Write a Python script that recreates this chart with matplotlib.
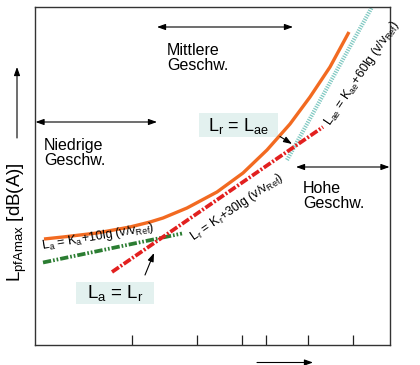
import matplotlib
matplotlib.use("Agg")
import matplotlib.pyplot as plt
from matplotlib import font_manager

plt.rcParams['font.family'] = ['Liberation Sans', 'DejaVu Sans']
plt.rcParams['mathtext.fontset'] = 'custom'
plt.rcParams['mathtext.rm'] = 'Liberation Sans'
plt.rcParams['mathtext.it'] = 'Liberation Sans'
plt.rcParams['lines.scale_dashes'] = False

names = {f.name for f in font_manager.fontManager.ttflist}
narrow = 'Liberation Sans Narrow' if 'Liberation Sans Narrow' in names else 'Liberation Sans'

# --- data (arbitrary units: speed on x, level on y) ---
total_x = [9, 28, 62, 95, 115, 128, 152, 182, 208, 232, 255, 275, 295, 314]
total_y = [106, 108, 112, 118, 123, 127, 137, 153, 172, 195, 221, 248, 278, 313]
la_x = [8, 147]
la_y = [82.5, 111.5]
lr_x = [77, 288]
lr_y = [73, 218]
lae_x = [252, 337]
lae_y = [185, 338]
tick_x = [97, 162, 207, 231, 273, 318]

fig = plt.figure(figsize=(4.2, 3.65), dpi=100)
ax = fig.add_axes([35/420, 20/365, 355/420, 338/365])
ax.set_xlim(0, 355)
ax.set_ylim(0, 338)

ax.plot(total_x, total_y, color='#f26a21', lw=2.4, solid_capstyle='butt', zorder=3)
ax.plot(la_x, la_y, color='#2b7d32', lw=2.7, dashes=(6, 1.4, 1.2, 1.4, 1.2, 1.4), zorder=3)
ax.plot(lr_x, lr_y, color='#e2201f', lw=2.7, dashes=(6, 1.4, 1.4, 1.4), zorder=4)
ax.plot(lae_x, lae_y, color='#80c9c2', lw=3.0, dashes=(0.9, 0.9), zorder=2)

ax.set_xticks(tick_x)
ax.set_xticklabels([])
ax.set_yticks([])
ax.tick_params(axis='x', direction='in', length=7.5, width=0.9, color='#222222')
for s in ax.spines.values():
    s.set_color('#333333')
    s.set_linewidth(1.0)

fs = 11.5
# region labels
ax.text(132, 302, 'Mittlere\nGeschw.', fontsize=fs, va='top', ha='left', linespacing=1.0)
ax.text(9, 207, 'Niedrige\nGeschw.', fontsize=fs, va='top', ha='left', linespacing=1.0)
ax.text(268, 164, 'Hohe\nGeschw.', fontsize=fs, va='top', ha='left', linespacing=1.0)

dbl = dict(arrowstyle='<|-|>,head_length=0.5,head_width=0.18', color='black', lw=0.8,
           shrinkA=0, shrinkB=0, mutation_scale=10)
ax.annotate('', xy=(122, 318), xytext=(258, 318), arrowprops=dbl)
ax.annotate('', xy=(0.5, 223), xytext=(122, 223), arrowprops=dbl)
ax.annotate('', xy=(261, 178), xytext=(354.5, 178), arrowprops=dbl)

# boxes
ax.add_patch(plt.Rectangle((164, 208), 79, 24, fc='#e3f1ef', ec='none', zorder=1))
ax.add_patch(plt.Rectangle((41, 41), 78, 22, fc='#e3f1ef', ec='none', zorder=1))
ax.text(203.5, 219.5, r'L$_\mathregular{r}$ = L$_\mathregular{ae}$', fontsize=13, ha='center', va='center', zorder=2)
ax.text(80, 52, r'L$_\mathregular{a}$ = L$_\mathregular{r}$', fontsize=13.5, ha='center', va='center', zorder=2)

sgl = dict(arrowstyle='-|>,head_length=0.5,head_width=0.18', color='black', lw=0.8,
           shrinkA=0, shrinkB=0, mutation_scale=10)
ax.annotate('', xy=(257, 201), xytext=(245, 208.5), arrowprops=sgl)
ax.annotate('', xy=(119, 92), xytext=(110, 70), arrowprops=sgl)

# formula labels
lfs = 9.0
ax.text(7, 95.5, r'L$_\mathregular{a}$ = K$_\mathregular{a}$+10lg (v/v$_\mathregular{Ref}$)', fontsize=lfs,
        family=narrow, rotation=9.5, rotation_mode='anchor', ha='left', va='baseline')
ax.text(158, 104, r'L$_\mathregular{r}$ = K$_\mathregular{r}$+30lg (v/v$_\mathregular{Ref}$)', fontsize=lfs,
        family=narrow, rotation=34.5, rotation_mode='anchor', ha='left', va='baseline')
ax.text(286, 225, r'L$_\mathregular{ae}$ = K$_\mathregular{ae}$+60lg (v/v$_\mathregular{Ref}$)', fontsize=lfs,
        family=narrow, rotation=56, rotation_mode='anchor', ha='left', va='top')

# y label with arrow
fig.text(17/420, (365-222)/365, r'L$_\mathregular{pfAmax}$ [dB(A)]', fontsize=13.5,
         rotation=90, ha='center', va='center')
fig_arrow = dict(arrowstyle='-|>,head_length=0.5,head_width=0.18', color='black', lw=0.8,
                 shrinkA=0, shrinkB=0, mutation_scale=10)
fig.add_artist(matplotlib.patches.FancyArrowPatch((17/420, (365-138)/365), (17/420, (365-67)/365),
               transform=fig.transFigure, **fig_arrow))
fig.add_artist(matplotlib.patches.FancyArrowPatch((257/420, (365-362.5)/365), (313/420, (365-362.5)/365),
               transform=fig.transFigure, **fig_arrow))

fig.savefig('out.png', dpi=100)
